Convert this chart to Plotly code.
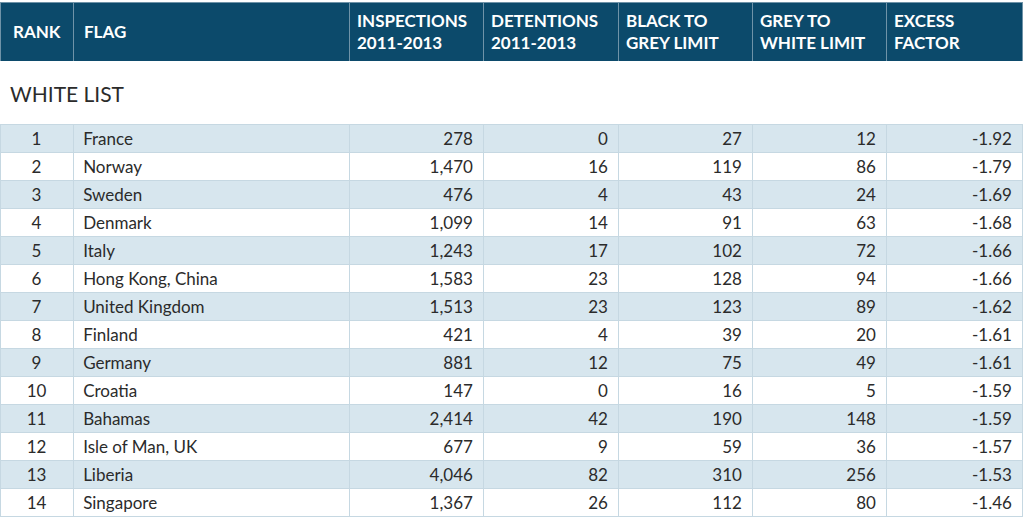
import plotly.graph_objects as go

ranks = list(range(1, 15))
flags = ["France", "Norway", "Sweden", "Denmark", "Italy", "Hong Kong, China",
         "United Kingdom", "Finland", "Germany", "Croatia", "Bahamas",
         "Isle of Man, UK", "Liberia", "Singapore"]
inspections = [278, 1470, 476, 1099, 1243, 1583, 1513, 421, 881, 147, 2414, 677, 4046, 1367]
detentions = [0, 16, 4, 14, 17, 23, 23, 4, 12, 0, 42, 9, 82, 26]
black_to_grey = [27, 119, 43, 91, 102, 128, 123, 39, 75, 16, 190, 59, 310, 112]
grey_to_white = [12, 86, 24, 63, 72, 94, 89, 20, 49, 5, 148, 36, 256, 80]
excess_factor = [-1.92, -1.79, -1.69, -1.68, -1.66, -1.66, -1.62, -1.61, -1.61, -1.59, -1.59, -1.57, -1.53, -1.46]
headers = ["RANK", "FLAG", "INSPECTIONS<br>2011-2013", "DETENTIONS<br>2011-2013",
           "BLACK TO<br>GREY LIMIT", "GREY TO<br>WHITE LIMIT", "EXCESS<br>FACTOR"]
section_title = "WHITE LIST"

W, H = 1024, 518
col_widths = [73, 276, 134, 135, 134, 134, 136]
TOP = 2
HEADER_H = 60
SECTION_H = 62
DARK = "#0c4a6b"
LIGHT = "#d7e6ee"
LINE = "#c6d8e2"
TEXT = "#2b2b2b"
FONT = "Lato"
TS = "\u2009"

fmt = lambda v: f"{v:,}"
row_fill = [LIGHT if i % 2 == 0 else "white" for i in range(len(ranks))]
xr = sum(col_widths) / W

fig = go.Figure()

# header table (single-line labels placed as annotations for vertical centering)
hdr_vals = [f"<b>{h}</b>" if "<br>" in h else "" for h in headers]
fig.add_trace(go.Table(
    domain=dict(x=[0, xr], y=[1 - (TOP + HEADER_H) / H, 1 - TOP / H]),
    columnwidth=col_widths,
    header=dict(values=hdr_vals,
                fill_color=DARK, line=dict(color="#6f93a8", width=1),
                font=dict(family=FONT, size=17, color="white"),
                align="left", height=HEADER_H),
    cells=dict(values=[[] for _ in headers], height=0),
))

# body table (header used as white section gap)
fig.add_trace(go.Table(
    domain=dict(x=[0, xr], y=[0, 1 - (TOP + HEADER_H) / H]),
    columnwidth=col_widths,
    header=dict(values=[""] * 7, fill_color="white", line=dict(color="white", width=0),
                height=SECTION_H),
    cells=dict(values=[ranks,
                       [TS + f for f in flags],
                       [fmt(v) + TS for v in inspections],
                       [fmt(v) + TS for v in detentions],
                       [fmt(v) + TS for v in black_to_grey],
                       [fmt(v) + TS for v in grey_to_white],
                       [f"{v:.2f}" + TS for v in excess_factor]],
               fill_color=[row_fill] * 7,
               line=dict(color=LINE, width=1),
               font=dict(family=FONT, size=17, color=TEXT),
               align=["center", "left", "right", "right", "right", "right", "right"],
               height=28),
))

# single-line header labels
fig.add_annotation(text=f"<b>{headers[0]}</b>", x=col_widths[0] / 2 / W, y=1 - (TOP + HEADER_H / 2) / H,
                   xref="paper", yref="paper", xanchor="center", yanchor="middle", showarrow=False,
                   font=dict(family=FONT, size=17, color="white"))
fig.add_annotation(text=f"<b>{headers[1]}</b>", x=(col_widths[0] + 9) / W, y=1 - (TOP + HEADER_H / 2) / H,
                   xref="paper", yref="paper", xanchor="left", yanchor="middle", showarrow=False,
                   font=dict(family=FONT, size=17, color="white"))

fig.add_annotation(text=section_title, x=8 / W, y=1 - 94 / H, xref="paper", yref="paper",
                   xanchor="left", yanchor="middle", showarrow=False,
                   font=dict(family=FONT, size=21, color=TEXT))

fig.update_layout(width=W, height=H, margin=dict(l=0, r=0, t=0, b=0),
                  paper_bgcolor="white")
fig.write_html("out.html", config={"displayModeBar": False},
               post_script="document.body.style.margin='0';")
